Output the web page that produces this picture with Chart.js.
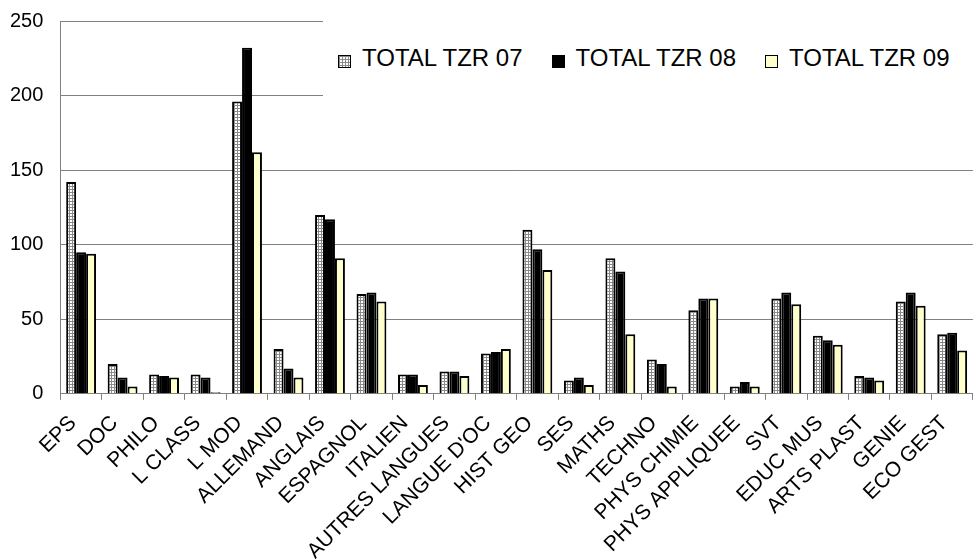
<!DOCTYPE html>
<html>
<head>
<meta charset="utf-8">
<script src="https://cdn.jsdelivr.net/npm/chart.js@4.4.1/dist/chart.umd.min.js"></script>
<style>
  html, body { margin: 0; padding: 0; background: #fff; overflow: hidden; }
  #wrap { position: relative; width: 981px; height: 560px; }
  /* legend floats over the top-right gridlines on a white patch */
  #legend {
    position: absolute; left: 323px; top: 18px; width: 658px; height: 94px;
    background: #fff; box-sizing: border-box; padding: 26px 0 0 15px;
    font: 24px Arial, 'Liberation Sans', sans-serif; color: #000;
    line-height: 28px; white-space: nowrap;
  }
  .lg-item { display: inline-block; margin-right: 29px; }
  .lg-box {
    display: inline-block; width: 13px; height: 13px; margin-right: 11px;
    border: 1px solid #000; box-sizing: border-box; vertical-align: -2px;
  }
</style>
</head>
<body>
<div id="wrap">
  <canvas id="tzrChart"></canvas>
  <div id="legend"></div>
</div>
<script>
// ═══════════════════════════════════════════
// DATA — TZR totals per subject
// ═══════════════════════════════════════════
const subjects = ['EPS', 'DOC', 'PHILO', 'L CLASS', 'L MOD', 'ALLEMAND', 'ANGLAIS', 'ESPAGNOL',
  'ITALIEN', 'AUTRES LANGUES', "LANGUE D'OC", 'HIST GEO', 'SES', 'MATHS', 'TECHNO',
  'PHYS CHIMIE', 'PHYS APPLIQUEE', 'SVT', 'EDUC MUS', 'ARTS PLAST', 'GENIE', 'ECO GEST'];
const seriesNames = ['TOTAL TZR 07', 'TOTAL TZR 08', 'TOTAL TZR 09'];
const tzr07 = [142, 20, 13, 13, 196, 30, 120, 67, 13, 15, 27, 110, 9, 91, 23, 56, 5, 64, 39, 12, 62, 40];
const tzr08 = [95, 11, 12, 11, 232, 17, 117, 68, 13, 15, 28, 97, 11, 82, 20, 64, 8, 68, 36, 11, 68, 41];
const tzr09 = [94, 5, 11, 1, 162, 11, 91, 62, 6, 12, 30, 83, 6, 40, 5, 64, 5, 60, 33, 9, 59, 29];
const yTicks = [0, 50, 100, 150, 200, 250];

Chart.defaults.font.family = "Arial, 'Liberation Sans', sans-serif";
Chart.defaults.color = '#000';

// dotted tile used by the 07 series (grey grid with white dots)
const dotTile = document.createElement('canvas');
dotTile.width = 3; dotTile.height = 3;
(function () {
  const g = dotTile.getContext('2d');
  g.fillStyle = '#8a8a8a';
  g.fillRect(0, 0, 3, 3);
  g.fillStyle = '#fff';
  g.fillRect(1, 1, 2, 2);
})();
const dotFill = dotTile.getContext('2d').createPattern(dotTile, 'repeat');

const gridGrey = '#808080';

const chart = new Chart(document.getElementById('tzrChart'), {
  type: 'bar',
  data: {
    labels: subjects,
    datasets: [
      { label: seriesNames[0], data: tzr07, backgroundColor: dotFill },
      { label: seriesNames[1], data: tzr08, backgroundColor: '#000' },
      { label: seriesNames[2], data: tzr09, backgroundColor: '#ffffcc' }
    ]
  },
  options: {
    responsive: true,
    maintainAspectRatio: false,
    animation: false,
    datasets: {
      bar: { borderColor: '#000', borderWidth: 2, categoryPercentage: 0.72, barPercentage: 1.0 }
    },
    layout: { padding: { left: -7, top: 21, right: 0, bottom: -15 } },
    plugins: {
      tooltip: { enabled: false },
      legend: { display: false }
    },
    scales: {
      x: {
        grid: { drawOnChartArea: false, drawTicks: true, tickLength: 6, color: gridGrey },
        border: { color: gridGrey },
        ticks: {
          autoSkip: false, minRotation: 45, maxRotation: 45,
          padding: 11, labelOffset: -8, font: { size: 21 }, color: '#000'
        }
      },
      y: {
        min: 0,
        max: 250,
        afterBuildTicks: axis => { axis.ticks = yTicks.map(v => ({ value: v })); },
        afterFit: axis => { axis.paddingTop = 0; axis.paddingBottom = 0; },
        grid: { drawTicks: false, color: gridGrey },
        border: { color: gridGrey },
        ticks: { padding: 17, font: { size: 20 }, color: '#000' }
      }
    }
  }
});

// HTML legend built from the dataset list
document.getElementById('legend').innerHTML = chart.data.datasets.map((ds, i) => {
  const bg = i === 0 ? `background-image:url(${dotTile.toDataURL()})` : `background:${ds.backgroundColor}`;
  return `<span class="lg-item"><span class="lg-box" style="${bg}"></span>${ds.label}</span>`;
}).join('');
</script>
</body>
</html>
